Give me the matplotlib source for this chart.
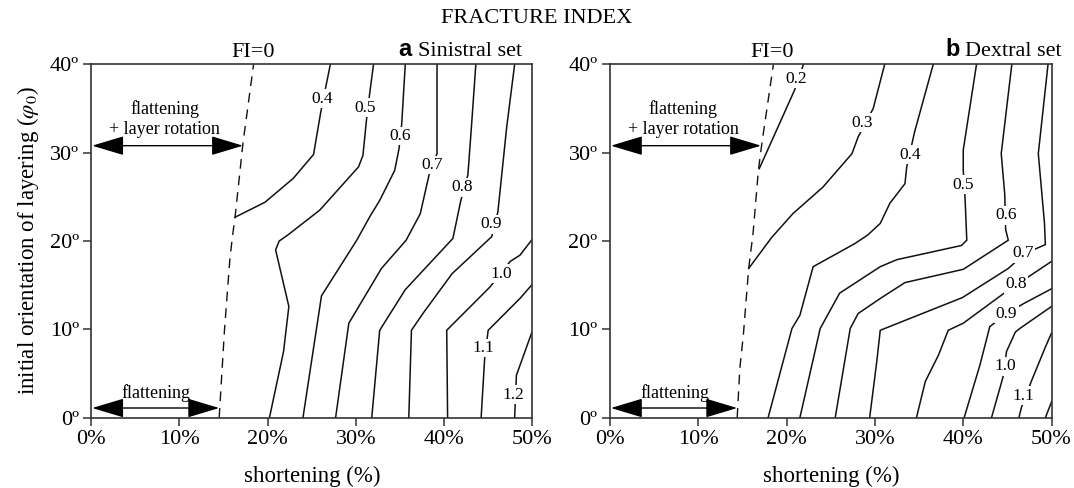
import matplotlib
matplotlib.use("Agg")
import matplotlib.pyplot as plt

plt.rcParams["font.family"] = ["Liberation Serif", "DejaVu Serif"]
plt.rcParams["mathtext.fontset"] = "stix"

# ---- data: hand-read contour lines (shortening %, initial layering angle deg) ----
XTICKS = [0, 10, 20, 30, 40, 50]
YTICKS = [0, 10, 20, 30, 40]

# a: sinistral set
SIN_LEVELS = ["0.4", "0.5", "0.6", "0.7", "0.8", "0.9", "1.0", "1.1", "1.2"]
SIN_X = [
    [16.3, 19.7, 22.9, 25.2, 26.0, 27.1],
    [20.2, 21.8, 22.4, 20.9, 21.3, 22.3, 25.9, 30.3, 30.8, 31.2, 31.6, 32.0],
    [24.0, 26.1, 30.1, 31.6, 32.7, 33.3, 34.4, 34.9, 35.2, 35.6],
    [27.7, 29.2, 32.9, 35.7, 37.3, 38.3, 39.2, 39.2],
    [31.8, 32.7, 35.6, 41.0, 41.9, 42.7, 43.1, 43.6],
    [36.0, 36.3, 37.6, 40.9, 45.4, 46.1, 47.1, 48.0],
    [40.4, 40.3, 45.2, 47.5, 48.6, 50.0],
    [44.2, 44.6, 45.0, 48.6, 50.0],
    [48.0, 48.2, 50.0],
]
SIN_Y = [
    [22.7, 24.4, 27.1, 29.8, 34.5, 40.0],
    [0.0, 7.5, 12.6, 19.0, 20.0, 20.7, 23.5, 28.4, 29.7, 33.7, 37.0, 40.0],
    [0.0, 13.8, 20.1, 22.8, 24.6, 25.8, 28.0, 30.5, 33.3, 40.0],
    [0.0, 10.7, 16.9, 20.1, 23.1, 27.5, 29.9, 40.0],
    [0.0, 9.9, 14.5, 20.3, 24.6, 27.5, 32.9, 40.0],
    [0.0, 9.9, 11.8, 16.3, 20.5, 23.3, 32.9, 40.0],
    [0.0, 9.9, 14.8, 17.7, 18.4, 20.2],
    [0.0, 6.7, 9.9, 13.5, 15.1],
    [0.0, 4.8, 9.8],
]
SIN_LABEL_X = [26.2, 31.1, 35.0, 38.7, 42.1, 45.3, 46.5, 44.5, 47.9]
SIN_LABEL_Y = [36.1, 35.1, 31.9, 28.6, 26.1, 21.9, 16.3, 7.9, 2.6]
SIN_FI0_X = [14.5, 15.1, 15.7, 16.0, 16.3, 17.2, 18.4]
SIN_FI0_Y = [0.0, 9.9, 17.8, 20.5, 22.7, 31.1, 40.0]

# b: dextral set
DEX_LEVELS = ["0.2", "0.3", "0.4", "0.5", "0.6", "0.7", "0.8", "0.9", "1.0", "1.1", None]
DEX_X = [
    [16.9, 20.9, 21.9],
    [15.7, 18.3, 20.7, 24.1, 27.4, 28.1, 29.8, 31.1],
    [17.9, 20.6, 21.5, 23.0, 27.7, 29.2, 30.6, 31.7, 33.4, 33.6, 34.5, 36.6],
    [21.5, 23.8, 26.0, 30.6, 32.5, 39.8, 40.4, 40.2, 40.0, 40.0, 41.5],
    [25.5, 27.2, 28.1, 30.6, 33.4, 40.0, 45.1, 44.8, 44.7, 44.3, 45.5],
    [29.4, 30.2, 30.6, 39.9, 45.1, 47.0, 49.3, 49.2, 48.5, 49.6],
    [34.7, 35.7, 37.2, 38.3, 40.0, 44.9, 50.0],
    [40.1, 41.9, 43.0, 44.9, 46.8, 50.0],
    [43.2, 44.5, 44.9, 45.9, 46.4, 50.0],
    [46.3, 46.6, 47.7, 49.3, 50.0],
    [49.3, 50.0],
]
DEX_Y = [
    [28.2, 37.1, 40.0],
    [16.9, 20.4, 23.1, 26.1, 29.9, 31.8, 35.0, 40.0],
    [0.0, 10.1, 11.6, 17.1, 19.7, 20.7, 22.0, 24.3, 26.5, 28.4, 32.4, 40.0],
    [0.0, 10.1, 14.1, 17.1, 17.9, 19.5, 20.1, 25.0, 28.0, 30.3, 40.0],
    [0.0, 10.1, 11.8, 13.5, 15.3, 16.8, 20.1, 21.3, 25.3, 29.9, 40.0],
    [0.0, 6.3, 9.9, 13.6, 16.9, 18.6, 19.6, 22.0, 29.9, 40.0],
    [0.0, 4.1, 7.1, 9.9, 10.7, 14.3, 17.7],
    [0.0, 6.0, 10.3, 11.8, 12.9, 14.6],
    [0.0, 4.6, 7.5, 9.7, 10.1, 12.6],
    [0.0, 1.2, 4.1, 8.0, 9.6],
    [0.0, 1.8],
]
DEX_LABEL_X = [21.1, 28.6, 34.0, 40.0, 44.8, 46.8, 46.0, 44.9, 44.8, 46.8, None]
DEX_LABEL_Y = [38.4, 33.4, 29.8, 26.4, 22.9, 18.6, 15.1, 11.8, 5.8, 2.5, None]
DEX_FI0_X = [14.4, 14.7, 15.1, 15.7, 16.2, 16.8, 17.2, 18.5]
DEX_FI0_Y = [0.0, 5.6, 9.4, 16.9, 20.9, 28.0, 31.1, 40.0]

# arrows: (end of "flattening + layer rotation", end of "flattening")
SIN_ARROW_END = [17.2, 14.5]
DEX_ARROW_END = [17.1, 14.4]
ARROW_Y = [30.8, 1.1]

LINE_C = "#111111"


def draw_panel(ax, xs, ys, levels, lab_x, lab_y, fi_x, fi_y, arrow_end, letter, name, letter_x):
    for x, y in zip(xs, ys):
        ax.plot(x, y, color=LINE_C, lw=1.1, solid_joinstyle="miter")
    ax.plot(fi_x, fi_y, color=LINE_C, lw=1.0, linestyle=(0, (7, 5)))
    for lev, lx, ly in zip(levels, lab_x, lab_y):
        if lev is None:
            continue
        ax.text(lx, ly, lev, fontsize=12.5, ha="center", va="center", zorder=5,
                bbox=dict(boxstyle="square,pad=0.08", fc="white", ec="none"))

    # double arrows for the deformation regimes
    astyle = dict(arrowstyle="<|-|>,head_length=1.0,head_width=0.3", color="black",
                  lw=1.0, mutation_scale=20, shrinkA=0, shrinkB=0)
    for xe, ya in zip(arrow_end, ARROW_Y):
        ax.annotate("", xy=(0.1, ya), xytext=(xe, ya), arrowprops=astyle, annotation_clip=False)
    ax.text(8.3, 34.9, "flattening", fontsize=13, ha="center", va="center")
    ax.text(8.3, 32.6, "+ layer rotation", fontsize=13, ha="center", va="center")
    ax.text(7.3, 2.75, "flattening", fontsize=13, ha="center", va="center")

    ax.text(18.3, 40.3, "FI=0", fontsize=16, ha="center", va="bottom")
    ax.text(letter_x, 40.4, letter, fontsize=17, fontweight="bold", family="Liberation Sans",
            ha="center", va="bottom")
    ax.text(letter_x + 1.4, 40.4, name, fontsize=16, ha="left", va="bottom")

    ax.set_xlim(0, 50)
    ax.set_ylim(0, 40)
    ax.set_xticks(XTICKS)
    ax.set_xticklabels([f"{v}%" for v in XTICKS])
    ax.set_yticks(YTICKS)
    ax.set_yticklabels([f"{v}º" for v in YTICKS])
    ax.tick_params(direction="out", length=6, width=1.1, labelsize=16, pad=3, color="#333333")
    for sp in ax.spines.values():
        sp.set_linewidth(1.2)
        sp.set_color("#333333")
    ax.set_xlabel("shortening (%)", fontsize=16.5, labelpad=12)


fig = plt.figure(figsize=(10.74, 4.88), dpi=100)
ax1 = fig.add_axes([0.085, 0.144, 0.4106, 0.724])
ax2 = fig.add_axes([0.568, 0.144, 0.4111, 0.724])

draw_panel(ax1, SIN_X, SIN_Y, SIN_LEVELS, SIN_LABEL_X, SIN_LABEL_Y, SIN_FI0_X, SIN_FI0_Y,
           SIN_ARROW_END, "a", "Sinistral set", 35.6)
draw_panel(ax2, DEX_X, DEX_Y, DEX_LEVELS, DEX_LABEL_X, DEX_LABEL_Y, DEX_FI0_X, DEX_FI0_Y,
           DEX_ARROW_END, "b", "Dextral set", 38.8)

ax1.set_ylabel(r"initial orientation of layering ($\varphi_0$)", fontsize=16.5, labelpad=6)
fig.text(0.5, 0.962, "FRACTURE INDEX", fontsize=16, ha="center", va="center")

fig.savefig("out.png", dpi=100)
